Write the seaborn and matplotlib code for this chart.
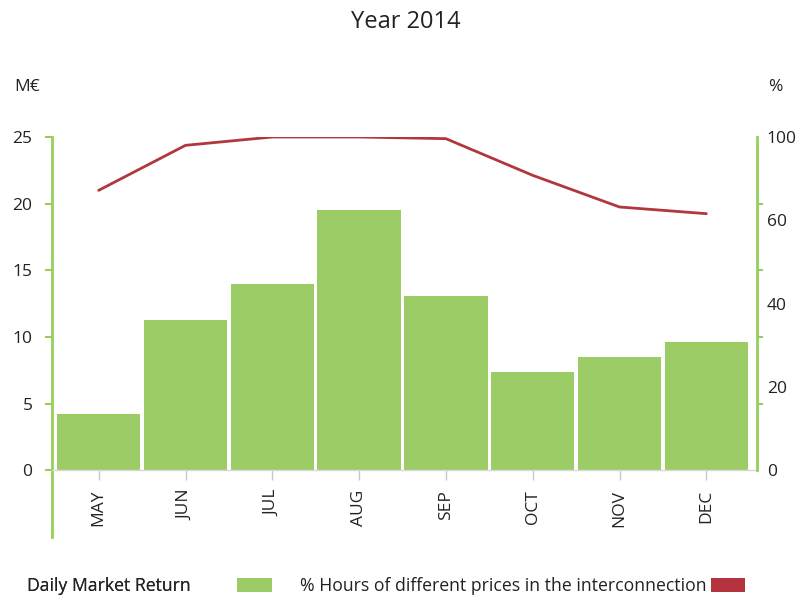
import numpy as np
import matplotlib
matplotlib.use("Agg")
import matplotlib.pyplot as plt
from matplotlib.patches import Patch
import seaborn as sns

months = ["MAY", "JUN", "JUL", "AUG", "SEP", "OCT", "NOV", "DEC"]
market_return = [4.2, 11.3, 13.95, 19.5, 13.1, 7.4, 8.5, 9.6]
pct_hours = [84, 97.5, 100, 100, 99.5, 88.5, 79, 77]
left_ticks = [0, 5, 10, 15, 20, 25]
right_tick_marks = [0, 20, 40, 60, 80, 100]
right_label_pos = [0, 25, 50, 75, 100]
right_labels = ["0", "20", "40", "60", "100"]

sns.set_theme(style="white")
plt.rcParams["font.family"] = ["Open Sans", "DejaVu Sans"]

BAR = "#9ccc65"
SPINE = "#96cf5a"
RED = "#b0383c"
LEG_RED = "#b5323f"

fig = plt.figure(figsize=(8.07, 6.01), dpi=100)
W, H = 807, 601
ax = fig.add_axes([52 / W, 1 - 537 / H, (757 - 52) / W, (537 - 137) / H])

sns.barplot(x=months, y=market_return, ax=ax, color=BAR, saturation=1,
            width=0.96, edgecolor="none")
ax.set_xlim(-0.538, 7.584)
ax.set_ylim(-5, 25)
ax.set_yticks(left_ticks)
ax.set_yticklabels([str(t) for t in left_ticks])
ax.set_xlabel("")
ax.set_ylabel("")

for s in ["top", "right"]:
    ax.spines[s].set_visible(False)
ax.spines["left"].set_color(SPINE)
ax.spines["left"].set_linewidth(2)
ax.spines["bottom"].set_position(("data", 0))
ax.spines["bottom"].set_color("#d8d8d8")
ax.spines["bottom"].set_linewidth(1)
ax.tick_params(axis="y", left=True, length=5, width=1.5, color=SPINE,
               labelsize=12.5, pad=9, labelcolor="#222222")
ax.tick_params(axis="x", bottom=True, length=7, width=1, color="#c8c8c8",
               labelsize=12.5, pad=7, labelrotation=90, labelcolor="#222222")

ax2 = ax.twinx()
sns.lineplot(x=np.arange(len(months)), y=pct_hours, ax=ax2, color=RED,
             linewidth=2)
ax2.set_ylim(-20, 100)
ax2.set_xlim(-0.538, 7.584)
for s in ["top", "left", "bottom"]:
    ax2.spines[s].set_visible(False)
ax2.spines["right"].set_color(SPINE)
ax2.spines["right"].set_linewidth(2)
ax2.spines["right"].set_bounds(0, 100)
ax2.set_yticks(right_tick_marks, minor=True)
ax2.set_yticks(right_label_pos)
ax2.set_yticklabels(right_labels)
ax2.tick_params(axis="y", which="minor", right=True, length=4, width=1.5,
                color=SPINE)
ax2.tick_params(axis="y", which="major", right=True, length=0, labelsize=12.5,
                pad=7, labelcolor="#222222")
ax2.set_ylabel("")

fig.text(406 / W, 1 - 22 / H, "Year 2014", ha="center", va="center",
         fontsize=17, color="#222222")
fig.text(14 / W, 1 - 87 / H, "M€", ha="left", va="center", fontsize=12.5,
         color="#222222")
fig.text(768 / W, 1 - 87 / H, "%", ha="left", va="center", fontsize=12.5,
         color="#222222")

leg_kw = dict(loc="center left", frameon=False, markerfirst=False,
              fontsize=12.7, handlelength=1.93, handleheight=0.9,
              borderpad=0, borderaxespad=0, labelcolor="#222222")
leg1 = fig.legend([Patch(facecolor=BAR, edgecolor="none")],
                  ["Daily Market Return"],
                  bbox_to_anchor=(27 / W, 1 - 586 / H),
                  handletextpad=2.65, **leg_kw)
leg2 = fig.legend([Patch(facecolor=LEG_RED, edgecolor="none")],
                  ["% Hours of different prices in the interconnection"],
                  bbox_to_anchor=(300 / W, 1 - 586 / H),
                  handletextpad=0.25, **leg_kw)
fig.add_artist(leg1)

fig.savefig("out.png", dpi=100)
